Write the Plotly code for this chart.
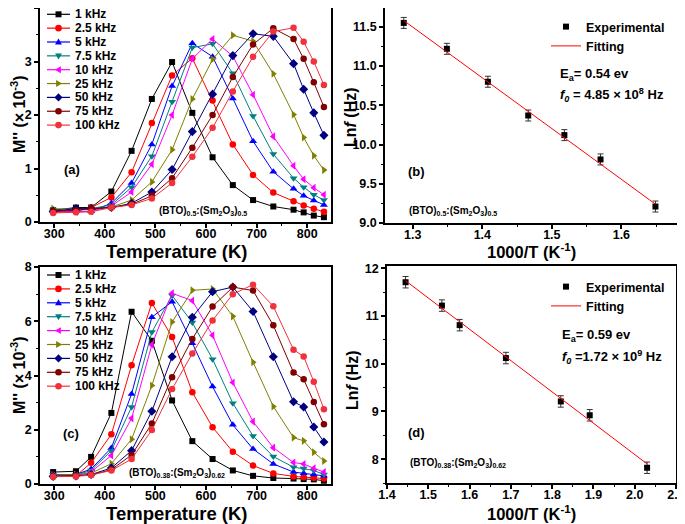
import plotly.graph_objects as go

# the page body adds an 8 px margin, so the figure is 8 px smaller and all
# reference pixel positions are shifted by that offset
W, H = 677, 516
OFF = 8
FONT = "Arial, Liberation Sans, sans-serif"

# ---------------- data ----------------
temperature = [298, 343, 373, 413, 453, 493, 533, 573, 613, 653, 693, 733, 773, 793, 813, 833]
freq_labels = ["1 kHz", "2.5 kHz", "5 kHz", "7.5 kHz", "10 kHz", "25 kHz", "50 kHz", "75 kHz", "100 kHz"]

# panel (a): M'' (x1e-3), (BTO)0.5:(Sm2O3)0.5
a_1k = [0.22, 0.27, 0.27, 0.57, 1.33, 2.30, 2.99, 2.04, 1.21, 0.69, 0.41, 0.29, 0.23, 0.18, 0.12, 0.09]
a_2_5k = [0.18, 0.20, 0.27, 0.46, 0.93, 1.85, 2.74, 3.06, 2.27, 1.45, 0.88, 0.55, 0.39, 0.31, 0.25, 0.19]
a_5k = [0.20, 0.20, 0.20, 0.35, 0.73, 1.45, 2.54, 3.34, 3.09, 2.31, 1.51, 0.94, 0.62, 0.49, 0.40, 0.32]
a_7_5k = [0.22, 0.22, 0.25, 0.32, 0.65, 1.23, 2.25, 3.26, 3.33, 2.78, 1.98, 1.27, 0.82, 0.65, 0.51, 0.41]
a_10k = [0.20, 0.19, 0.20, 0.30, 0.56, 1.08, 2.00, 3.05, 3.42, 3.10, 2.38, 1.60, 1.05, 0.80, 0.64, 0.51]
a_25k = [0.25, 0.24, 0.25, 0.28, 0.41, 0.75, 1.35, 2.30, 3.04, 3.49, 3.38, 2.77, 2.01, 1.58, 1.24, 0.97]
a_50k = [0.20, 0.25, 0.25, 0.27, 0.35, 0.56, 0.98, 1.69, 2.39, 3.11, 3.52, 3.47, 2.96, 2.48, 2.04, 1.62]
a_75k = [0.20, 0.22, 0.25, 0.27, 0.33, 0.49, 0.82, 1.39, 2.00, 2.71, 3.32, 3.62, 3.42, 3.05, 2.61, 2.15]
a_100k = [0.17, 0.18, 0.19, 0.27, 0.32, 0.44, 0.73, 1.22, 1.76, 2.44, 3.09, 3.56, 3.63, 3.37, 3.00, 2.56]

# panel (c): M'' (x1e-3), (BTO)0.38:(Sm2O3)0.62
c_1k = [0.44, 0.47, 1.00, 2.62, 6.35, 5.28, 3.08, 1.58, 0.92, 0.50, 0.30, 0.22, 0.20, 0.18, 0.17, 0.12]
c_2_5k = [0.30, 0.30, 0.78, 1.83, 4.38, 6.67, 5.42, 3.38, 2.09, 1.19, 0.68, 0.39, 0.28, 0.25, 0.23, 0.20]
c_5k = [0.35, 0.35, 0.55, 1.33, 3.32, 6.15, 6.72, 5.19, 3.59, 2.18, 1.29, 0.74, 0.44, 0.40, 0.35, 0.30]
c_7_5k = [0.33, 0.33, 0.50, 1.23, 2.84, 5.60, 6.95, 5.95, 4.60, 2.98, 1.77, 1.01, 0.62, 0.57, 0.50, 0.35]
c_10k = [0.30, 0.30, 0.45, 1.05, 2.42, 5.13, 7.03, 6.76, 5.48, 3.74, 2.30, 1.34, 0.79, 0.74, 0.58, 0.44]
c_25k = [0.33, 0.35, 0.40, 0.75, 1.65, 3.63, 5.97, 7.14, 7.19, 6.18, 4.49, 2.86, 1.71, 1.59, 1.17, 0.85]
c_50k = [0.28, 0.30, 0.35, 0.59, 1.23, 2.68, 4.69, 6.15, 7.09, 7.26, 6.36, 4.69, 3.03, 2.84, 2.10, 1.55]
c_75k = [0.28, 0.30, 0.33, 0.53, 1.07, 2.23, 3.94, 5.35, 6.54, 7.26, 7.13, 5.85, 4.11, 3.86, 3.02, 2.20]
c_100k = [0.27, 0.28, 0.33, 0.50, 0.92, 1.99, 3.50, 4.81, 6.03, 7.00, 7.35, 6.55, 4.95, 4.70, 3.77, 2.76]

# panel (b): Arrhenius plot
b_inv_t = [1.287, 1.349, 1.408, 1.466, 1.518, 1.570, 1.649]
b_lnf = [11.55, 11.22, 10.80, 10.37, 10.12, 9.81, 9.21]
b_err = [0.07, 0.07, 0.07, 0.07, 0.07, 0.07, 0.07]
b_fit_x = [1.287, 1.649]
b_fit_y = [11.58, 9.24]

# panel (d): Arrhenius plot
d_inv_t = [1.445, 1.533, 1.576, 1.688, 1.821, 1.891, 2.030]
d_lnf = [11.71, 11.22, 10.81, 10.12, 9.21, 8.92, 7.82]
d_err = [0.12, 0.12, 0.12, 0.12, 0.12, 0.12, 0.12]
d_fit_x = [1.445, 2.030]
d_fit_y = [11.74, 7.90]

a_series = [a_1k, a_2_5k, a_5k, a_7_5k, a_10k, a_25k, a_50k, a_75k, a_100k]
c_series = [c_1k, c_2_5k, c_5k, c_7_5k, c_10k, c_25k, c_50k, c_75k, c_100k]

# ---------------- styles ----------------
colors = ["#000000", "#FF0000", "#0000FF", "#008080", "#FF00FF", "#808000", "#000080", "#800000", "#F0323C"]
symbols = ["square", "circle", "triangle-up", "triangle-down", "triangle-left",
           "triangle-right", "diamond", "circle", "circle"]
msizes = [6, 6.5, 7, 7, 7, 7, 7, 6.5, 6.5]


def PX(x):
    return (x - OFF) / W


def PY(y):
    return 1 - (y - OFF) / H


def xdom(x0, x1):
    return [max(0, PX(x0)), min(1, PX(x1))]


def ydom(y0, y1):
    return [max(0, PY(y1)), min(1, PY(y0))]


fig = go.Figure()

for vals, lab, col, sym, ms in zip(a_series, freq_labels, colors, symbols, msizes):
    fig.add_trace(go.Scatter(x=temperature, y=vals, mode="lines+markers", name=lab,
                             line=dict(color=col, width=1),
                             marker=dict(symbol=sym, size=ms, color=col, line=dict(width=0)),
                             xaxis="x", yaxis="y", showlegend=False))

for vals, lab, col, sym, ms in zip(c_series, freq_labels, colors, symbols, msizes):
    fig.add_trace(go.Scatter(x=temperature, y=vals, mode="lines+markers", name=lab,
                             line=dict(color=col, width=1),
                             marker=dict(symbol=sym, size=ms, color=col, line=dict(width=0)),
                             xaxis="x3", yaxis="y3", showlegend=False))

for xs, ys, errs, fx, fy, xa, ya, lg in [
    (b_inv_t, b_lnf, b_err, b_fit_x, b_fit_y, "x2", "y2", "legend"),
    (d_inv_t, d_lnf, d_err, d_fit_x, d_fit_y, "x4", "y4", "legend2"),
]:
    fig.add_trace(go.Scatter(x=xs, y=ys, mode="markers", name="Experimental",
                             marker=dict(symbol="square", size=6, color="black"),
                             error_y=dict(type="data", array=errs, color="#333333",
                                          thickness=1, width=3),
                             xaxis=xa, yaxis=ya, legend=lg))
    fig.add_trace(go.Scatter(x=fx, y=fy, mode="lines", name="Fitting",
                             line=dict(color="#FF0000", width=1),
                             xaxis=xa, yaxis=ya, legend=lg))

tickfont = dict(family=FONT, size=12.5, color="black", weight="bold")


def ax(domain, rng, dtick, mdtick, anchor, fmt=None, standoff=0):
    d = dict(domain=domain, range=rng, dtick=dtick, anchor=anchor,
             showline=True, linecolor="black", linewidth=1.5, mirror=True,
             ticks="outside", ticklen=4, tickwidth=1.5, tickcolor="black",
             showgrid=False, zeroline=False, automargin=False,
             tickfont=tickfont, ticklabelstandoff=standoff,
             minor=dict(dtick=mdtick, ticks="outside", ticklen=2.5, tickwidth=1.2,
                        tickcolor="black", showgrid=False))
    if fmt:
        d["tickformat"] = fmt
    return d


fig.update_layout(
    width=W, height=H,
    margin=dict(l=0, r=0, t=0, b=0),
    paper_bgcolor="white", plot_bgcolor="white",
    font=dict(family=FONT, color="black"),
    xaxis=ax(xdom(40, 331), [272, 847], 100, 50, "y", standoff=-5),
    yaxis=ax(ydom(6, 222), [0, 4], 1, 0.5, "x"),
    xaxis2=ax(xdom(385, 677), [1.26, 1.68], 0.1, 0.05, "y2", ".1f", standoff=-5),
    yaxis2=ax(ydom(6, 223), [9.0, 11.74], 0.5, 0.25, "x2", ".1f"),
    xaxis3=ax(xdom(40, 331), [272, 847], 100, 50, "y3", standoff=-5),
    yaxis3=ax(ydom(267, 484), [0, 8], 2, 1, "x3"),
    xaxis4=ax(xdom(387, 676), [1.4, 2.1], 0.1, 0.05, "y4", ".1f", standoff=-5),
    yaxis4=ax(ydom(266, 483), [7.5, 12.05], 1, 0.5, "x4"),
    legend=dict(x=PX(546), y=PY(12), xanchor="left", yanchor="top",
                bgcolor="rgba(0,0,0,0)", font=dict(family=FONT, size=12.5, color="black", weight="bold")),
    legend2=dict(x=PX(546), y=PY(272), xanchor="left", yanchor="top",
                 bgcolor="rgba(0,0,0,0)", font=dict(family=FONT, size=12.5, color="black", weight="bold")),
)

# ---------------- manual legends for (a) and (c) ----------------
shapes = []
annotations = []


def legend_marker(symbol, cx, cy, color, r=3.0):
    base = dict(xref="paper", yref="paper", fillcolor=color, line=dict(width=0), layer="above")
    if symbol == "square":
        return dict(type="rect", x0=PX(cx - r), x1=PX(cx + r), y0=PY(cy + r), y1=PY(cy - r), **base)
    if symbol == "circle":
        rr = r * 1.1
        return dict(type="circle", x0=PX(cx - rr), x1=PX(cx + rr), y0=PY(cy + rr), y1=PY(cy - rr), **base)
    pts = {
        "triangle-up": [(0, -1.2), (1.15, 0.8), (-1.15, 0.8)],
        "triangle-down": [(0, 1.2), (1.15, -0.8), (-1.15, -0.8)],
        "triangle-left": [(-1.2, 0), (0.8, -1.15), (0.8, 1.15)],
        "triangle-right": [(1.2, 0), (-0.8, -1.15), (-0.8, 1.15)],
        "diamond": [(0, -1.35), (1.35, 0), (0, 1.35), (-1.35, 0)],
    }[symbol]
    path = "M " + " L ".join(f"{PX(cx + dx * r):.5f},{PY(cy + dy * r):.5f}" for dx, dy in pts) + " Z"
    return dict(type="path", path=path, **base)


for top, step in [(14.3, 13.85), (275.0, 13.9)]:
    for i, (lab, col, sym) in enumerate(zip(freq_labels, colors, symbols)):
        cy = top + step * i
        shapes.append(dict(type="line", xref="paper", yref="paper", x0=PX(47), x1=PX(70),
                           y0=PY(cy), y1=PY(cy), line=dict(color=col, width=1.2)))
        shapes.append(legend_marker(sym, 58.5, cy, col))
        annotations.append(dict(text=lab, xref="paper", yref="paper", x=PX(73), y=PY(cy),
                                xanchor="left", yanchor="middle", showarrow=False,
                                font=dict(family=FONT, size=12, color="black", weight="bold")))

# ---------------- text annotations ----------------
comp_05 = "(BTO)<sub>0.5</sub>:(Sm<sub>2</sub>O<sub>3</sub>)<sub>0.5</sub>"
comp_038 = "(BTO)<sub>0.38</sub>:(Sm<sub>2</sub>O<sub>3</sub>)<sub>0.62</sub>"
ytitle_m = "M'' (× 10<sup>-3</sup>)"
ytitle_ln = "Ln<i>f</i> (Hz)"
xtitle_t = "Temperature (K)"
xtitle_inv = "1000/T (K<sup>-1</sup>)"

# (text, x, y, xanchor, size, angle)
txt = [
    ("(a)", 71.5, 169, "center", 13, 0),
    (comp_05, 157, 211, "left", 10, 0),
    ("(b)", 416.5, 171, "center", 13, 0),
    (comp_05, 407, 211, "left", 10, 0),
    ("E<sub>a</sub>= 0.54 ev", 558, 74, "left", 13, 0),
    ("<i>f</i><sub><i>0</i></sub> = 4.85 × 10<sup>8</sup> Hz", 558, 95, "left", 13, 0),
    ("(c)", 70.5, 433, "center", 13, 0),
    (comp_038, 127, 473, "left", 10, 0),
    ("(d)", 416.5, 432, "center", 13, 0),
    (comp_038, 408, 463, "left", 10, 0),
    ("E<sub>a</sub>= 0.59 ev", 560, 335, "left", 13, 0),
    ("<i>f</i><sub><i>0</i></sub> =1.72 × 10<sup>9</sup> Hz", 560, 357, "left", 13, 0),
    # axis titles
    (xtitle_t, 177, 252, "center", 18.5, 0),
    (xtitle_t, 177, 513, "center", 18.5, 0),
    (xtitle_inv, 531.5, 251, "center", 16.5, 0),
    (xtitle_inv, 531.5, 513, "center", 16.5, 0),
    (ytitle_m, 18, 114, "center", 16, -90),
    (ytitle_m, 18, 375, "center", 16, -90),
    (ytitle_ln, 351, 117, "center", 16, -90),
    (ytitle_ln, 352, 380, "center", 16, -90),
]
for t, x, y, anc, fs, ang in txt:
    annotations.append(dict(text=t, xref="paper", yref="paper", x=PX(x), y=PY(y),
                            xanchor=anc, yanchor="middle", showarrow=False, textangle=ang,
                            font=dict(family=FONT, size=fs, color="black", weight="bold")))

fig.update_layout(shapes=shapes, annotations=annotations)

fig.write_html("out.html")
